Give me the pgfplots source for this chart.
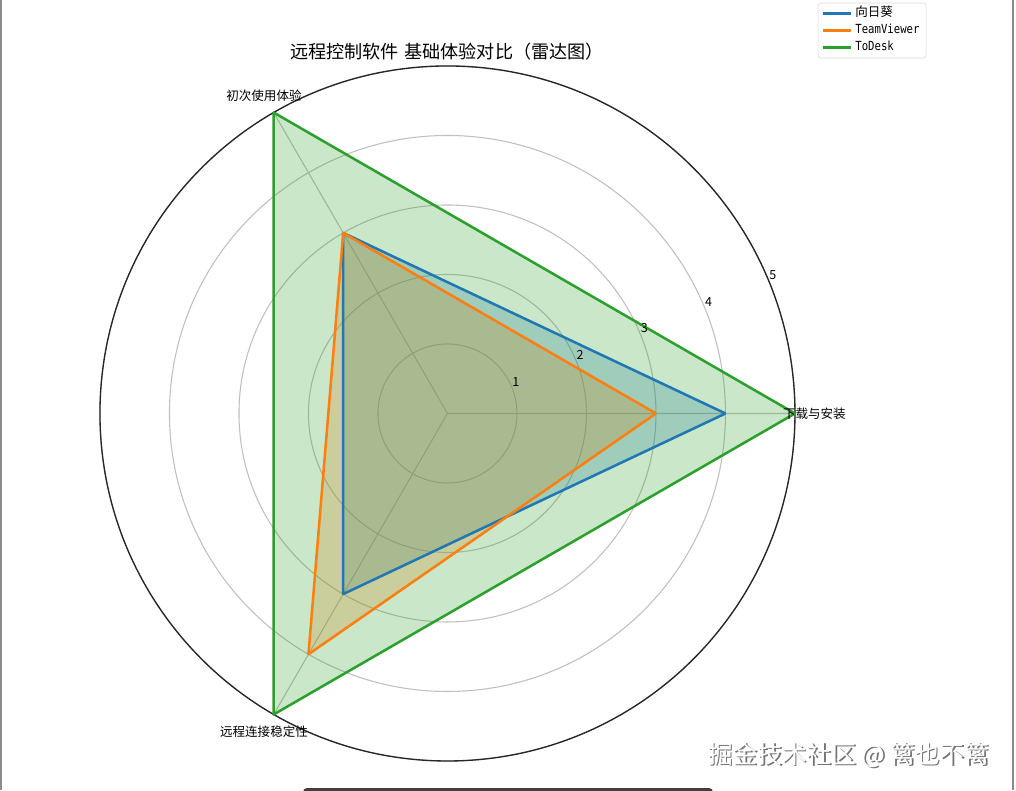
\documentclass[border=0pt]{standalone}
\usepackage{fontspec}
\usepackage{pgfplots}
\usepgfplotslibrary{polar}
\pgfplotsset{compat=1.18}
\setmainfont{Noto Sans CJK SC}
\newfontfamily\monofont[FakeStretch=0.85]{DejaVu Sans Mono}

\definecolor{tabblue}{HTML}{1F77B4}
\definecolor{taborange}{HTML}{FF7F0E}
\definecolor{tabgreen}{HTML}{2CA02C}
\definecolor{gridgray}{HTML}{C0C0C0}

\begin{document}
\begin{tikzpicture}[x=0.75pt, y=-0.75pt,
    rlabel/.style={font=\fontsize{9.4pt}{10pt}\selectfont, anchor=south west, inner sep=0.4pt},
    catlabel/.style={font=\fontsize{9.4pt}{10pt}\selectfont}]
  % page = 1016 x 790 px, 1px = 0.75pt, origin top-left
  \path[use as bounding box, fill=white] (0,0) rectangle (1016,790);

  \begin{polaraxis}[
      at={(335.6pt,-310.1pt)}, anchor=center,
      scale only axis,
      width=521.25pt, height=521.25pt,
      xmin=0, xmax=360, ymin=0, ymax=5,
      xtick={0,120,240}, xticklabels={},
      ytick={1,2,3,4,5}, yticklabels={},
      major tick length=0pt,
      grid=major,
      major grid style={gridgray, line width=0.8pt},
      x axis line style={black!85, line width=1pt},
      y axis line style={draw=none},
      clip=false,
      legend style={
          at={(1.033,1.091)}, anchor=north west,
          draw=black!15, rounded corners=2pt,
          font=\fontsize{9.4pt}{10pt}\selectfont,
          inner xsep=3pt, inner ysep=1.5pt,
          row sep=0pt,
          nodes={inner ysep=1pt, text height=8pt, text depth=2.75pt},
      },
      legend cell align=left,
      legend image code/.code={\draw[#1, fill=none] (0pt,0pt) -- (21pt,0pt);},
      fillstyle/.style={draw=none, fill=#1, fill opacity=0.25, forget plot},
      linestyle/.style={draw=#1, line width=1.9pt, line join=round},
  ]
    % fills first (patches sit below the lines)
    \addplot[fillstyle=tabblue]   coordinates {(0,4) (120,3) (240,3) (360,4)};
    \addplot[fillstyle=taborange] coordinates {(0,3) (120,3) (240,4) (360,3)};
    \addplot[fillstyle=tabgreen]  coordinates {(0,5) (120,5) (240,5) (360,5)};

    % 向日葵
    \addplot[linestyle=tabblue] coordinates {(0,4) (120,3) (240,3) (360,4)};
    \addlegendentry{向日葵}
    % TeamViewer
    \addplot[linestyle=taborange] coordinates {(0,3) (120,3) (240,4) (360,3)};
    \addlegendentry{{\monofont TeamViewer}}
    % ToDesk
    \addplot[linestyle=tabgreen] coordinates {(0,5) (120,5) (240,5) (360,5)};
    \addlegendentry{{\monofont ToDesk}}

    % category labels
    \node[catlabel] at (axis cs:0,5.28) {下载与安装};
    \node[catlabel] at (axis cs:120,5.28) {初次使用体验};
    \node[catlabel] at (axis cs:240,5.28) {远程连接稳定性};

    % radial labels at 22.5 degrees
    \node[rlabel] at (axis cs:22.5,1) {1};
    \node[rlabel] at (axis cs:22.5,2) {2};
    \node[rlabel] at (axis cs:22.5,3) {3};
    \node[rlabel] at (axis cs:22.5,4) {4};
    \node[rlabel] at (axis cs:22.5,5) {5};
  \end{polaraxis}

  % title
  \node[font=\fontsize{13.6pt}{15pt}\selectfont] at (447,52) {远程控制软件\hspace{0.3em}基础体验对比（雷达图）};

  % frame edges of the screenshot
  \draw[black!45, line width=1.5pt] (0.8,0) -- (0.8,790);
  \draw[black!45, line width=1.5pt] (1013,0) -- (1013,790);

  % bottom bar
  \fill[black!75, rounded corners=3pt] (303,788) rectangle (713,796);

  % watermark
  \node[anchor=base west, inner sep=0pt, text=black!55, font=\fontsize{18.5pt}{20pt}\selectfont]
    at (709.5,764.5) {掘金技术社区 @ 篱也不篱};
  \node[anchor=base west, inner sep=0pt, text=white, font=\fontsize{18.5pt}{20pt}\selectfont]
    at (708,763) {掘金技术社区 @ 篱也不篱};
\end{tikzpicture}
\end{document}
